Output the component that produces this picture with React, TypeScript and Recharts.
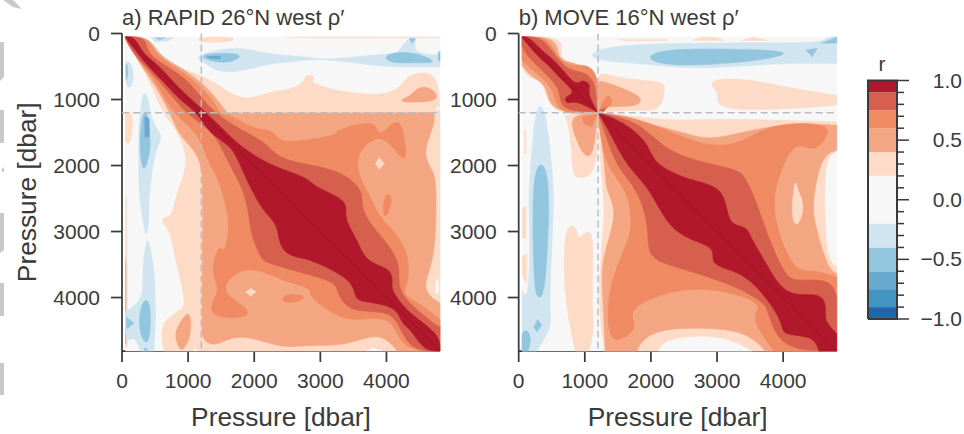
import { ScatterChart, Scatter, XAxis, YAxis } from 'recharts'

type Poly = number[][]

const FONT = '"Liberation Sans", Arial, sans-serif'
const INK = '#3a3a3a'
const MAX_P = 4810
const PRESSURE_TICKS = [0, 1000, 2000, 3000, 4000]
const DIAGONAL: Poly = [[50, 50], [4800, 4800]]
const INTERFACE_X: Poly = [[1200, 0], [1200, MAX_P]]
const INTERFACE_Y: Poly = [[0, 1200], [MAX_P, 1200]]

// contour level colours, RdBu_r
const C_N90 = '#2166ac'
const C_N75 = '#4393c3'
const C_N60 = '#67a9cf'
const C_N40 = '#92c5de'
const C_N20 = '#d1e5f0'
const C_0 = '#f7f7f7'
const C_P20 = '#fddbc7'
const C_P40 = '#f4a582'
const C_P60 = '#ef8a62'
const C_P75 = '#d6604d'
const C_P90 = '#b2182b'

const FULL: Poly = [[50, 50], [MAX_P, 50], [MAX_P, MAX_P], [50, MAX_P]]

// a) RAPID contours, [pressure x, pressure y]
const A_P20: Poly = [[50, 50], [330, 60], [680, 430], [985, 555], [1390, 730], [1790, 985], [2145, 910], [2400, 860], [2550, 835], [2750, 730], [2780, 630], [2930, 665], [2880, 740], [3260, 860], [3915, 925], [4220, 785], [4370, 630], [4745, 630], [4790, 1100], [4810, 1190], [4810, 4810], [630, 4810], [610, 4395], [885, 4190], [935, 3990], [785, 3335], [730, 3030], [605, 2850], [655, 2780], [755, 2725], [835, 2375], [985, 1920], [785, 1415], [630, 1210], [380, 655], [175, 255], [50, 80]]
const A_P20_STRIP1: Poly = [[50, 1210], [150, 1210], [150, 1515], [100, 1670], [50, 1620]]
const A_P20_STRIP2: Poly = [[50, 2450], [70, 2500], [75, 4750], [50, 4750]]
const A_P20_TOP1: Poly = [[2450, 52], [4810, 52], [4810, 62], [2900, 65]]
const A_P20_TOP2: Poly = [[1190, 55], [1650, 55], [1640, 120], [1400, 130], [1200, 125]]
const A_P20_DIAMOND1: Poly = [[3890, 1880], [3965, 1970], [3890, 2060], [3830, 1970]]
const A_P20_DIAMOND2: Poly = [[1945, 3860], [2030, 3915], [1945, 3980], [1870, 3915]]
const A_P40: Poly = [[50, 50], [400, 75], [580, 330], [910, 530], [1240, 785], [1440, 1010], [1590, 1185], [1700, 1205], [4650, 1205], [4700, 1215], [4720, 1390], [4570, 1820], [4720, 2120], [4745, 2525], [4720, 3385], [4570, 3840], [4810, 4090], [4810, 4810], [4165, 4810], [3865, 4570], [3370, 4720], [2755, 4720], [2400, 4750], [1795, 4570], [1440, 4720], [1240, 4620], [1210, 4395], [1225, 2375], [1190, 2020], [1085, 1770], [860, 1515], [730, 1210], [480, 760], [300, 505], [125, 200], [50, 60]]
const A_P40_BLOB1: Poly = [[4240, 995], [4370, 935], [4470, 835], [4620, 820], [4745, 910], [4720, 1010], [4470, 1035], [4270, 1035]]
const A_P40_BLOB2: Poly = [[960, 4270], [1025, 4285], [1035, 4550], [935, 4770], [860, 4750], [810, 4570], [860, 4420]]
const A_P40_STRIP: Poly = [[50, 3400], [62, 3500], [62, 4700], [50, 4700]]
const A_P60: Poly = [[50, 50], [380, 75], [505, 305], [835, 530], [1135, 760], [1390, 1035], [1490, 1215], [1640, 1235], [1995, 1440], [2250, 1465], [2400, 1615], [2700, 1625], [3205, 1540], [3230, 1490], [3510, 1390], [3820, 1365], [3900, 1540], [4115, 1340], [4240, 1440], [4290, 1870], [4165, 1820], [3890, 1540], [3535, 1920], [3710, 2370], [3760, 2475], [3915, 2800], [4140, 3030], [4320, 3385], [4320, 3740], [4270, 3940], [4420, 4040], [4770, 4290], [4810, 4340], [4810, 4810], [4265, 4800], [4065, 4340], [3585, 4340], [3255, 4270], [2850, 3990], [2830, 3860], [2400, 3740], [1895, 3550], [1515, 3865], [1795, 4090], [1900, 4270], [1490, 4295], [1340, 4140], [1465, 3890], [1370, 3640], [1415, 3380], [1490, 3230], [1550, 3280], [1615, 2880], [1545, 2525], [1440, 2180], [1290, 1920], [1135, 1515], [785, 1210], [530, 760], [330, 505], [150, 255], [50, 90]]
const A_P60_BLOB1: Poly = [[2425, 4015], [2550, 3950], [2750, 3980], [2675, 4050], [2500, 4075]]
const A_P60_BLOB2: Poly = [[4020, 2425], [4080, 2525], [4020, 2725], [3960, 2750], [3955, 2575]]
const A_P75: Poly = [[50, 50], [340, 75], [405, 305], [730, 530], [1035, 760], [1315, 1110], [1690, 1390], [2095, 1615], [2250, 1750], [2500, 1920], [3005, 2020], [3360, 2150], [3610, 2375], [3635, 2625], [3760, 2880], [3965, 3130], [4190, 3485], [4190, 3840], [4420, 4140], [4795, 4420], [4810, 4440], [4810, 4810], [4370, 4800], [4165, 4370], [3915, 4220], [3510, 4195], [3290, 3990], [3210, 3790], [2855, 3665], [2250, 3485], [2095, 3360], [1945, 2980], [1870, 2475], [1640, 2020], [1465, 1665], [1290, 1440], [985, 1210], [680, 860], [430, 580], [225, 355], [100, 175]]
const A_P90: Poly = [[50, 50], [200, 60], [330, 305], [555, 485], [810, 770], [1010, 960], [1260, 1190], [1515, 1435], [1820, 1720], [2270, 1995], [2750, 2170], [2930, 2320], [3260, 2475], [3390, 2625], [3390, 2830], [3560, 3130], [3710, 3435], [4015, 3560], [4090, 3740], [4090, 3890], [4270, 4140], [4470, 4320], [4795, 4570], [4810, 4810], [4570, 4800], [4370, 4495], [4240, 4395], [4140, 4190], [3865, 4090], [3570, 4040], [3510, 3890], [3360, 3685], [2900, 3460], [2750, 3410], [2500, 3335], [2375, 3130], [2325, 2880], [2095, 2625], [1820, 2070], [1640, 1720], [1340, 1515], [1135, 1210], [885, 1010], [655, 760], [405, 505], [200, 255], [65, 75]]
const A_WHITE1: Poly = [[3700, 4810], [3800, 4770], [3930, 4810]]
const A_WHITE2: Poly = [[1090, 4810], [1110, 4770], [1140, 4810]]
const A_WHITE3: Poly = [[4760, 3700], [4790, 3800], [4790, 3900], [4760, 3950], [4740, 3850]]
const A_WHITE4: Poly = [[4765, 1110], [4800, 1120], [4780, 1170], [4750, 1150]]
const A_N20_1: Poly = [[50, 430], [120, 440], [175, 620], [130, 810], [70, 780], [50, 620]]
const A_N20_2: Poly = [[330, 905], [400, 1000], [450, 1320], [600, 1565], [500, 1800], [420, 2400], [410, 2650], [400, 2900], [370, 3030], [350, 3000], [290, 2650], [260, 2400], [255, 2000], [250, 1515], [290, 1100]]
const A_N20_3: Poly = [[365, 3180], [410, 3180], [470, 3500], [495, 3740], [505, 4390], [480, 4810], [280, 4810], [180, 4600], [55, 4650], [55, 4220], [80, 4200], [300, 3990], [305, 3640]]
const A_N20_4: Poly = [[430, 60], [790, 60], [700, 110], [500, 130]]
const A_N20_5: Poly = [[1140, 355], [1440, 255], [1790, 225], [2150, 290], [2400, 325], [2700, 345], [3000, 380], [3200, 380], [3600, 345], [4010, 305], [4180, 270], [4320, 75], [4470, 75], [4415, 250], [4720, 330], [4810, 250], [4810, 505], [4270, 505], [3760, 480], [3000, 385], [2500, 445], [2250, 455], [1590, 600], [1290, 455]]
const A_N40_1: Poly = [[55, 470], [80, 480], [90, 620], [60, 720]]
const A_N40_2: Poly = [[355, 1190], [395, 1300], [405, 1515], [430, 1720], [330, 2120], [270, 1720], [300, 1310]]
const A_N40_3: Poly = [[355, 4040], [430, 4190], [405, 4700], [280, 4545], [270, 4240]]
const A_N40_4: Poly = [[330, 4770], [380, 4770], [370, 4810], [340, 4810]]
const A_N40_5: Poly = [[65, 4290], [180, 4390], [80, 4470], [65, 4440]]
const A_N40_6: Poly = [[500, 65], [650, 70], [560, 100]]
const A_N40_7: Poly = [[1240, 330], [1500, 300], [1800, 330], [1600, 440], [1300, 400]]
const A_N40_8: Poly = [[3995, 350], [4170, 290], [4470, 310], [4720, 430], [4480, 440], [4100, 440]]
const A_N40_9: Poly = [[4780, 300], [4810, 270], [4810, 420], [4780, 400]]
const A_N40_10: Poly = [[4340, 80], [4440, 80], [4380, 150]]
const A_N60_1: Poly = [[340, 1260], [410, 1290], [415, 1560], [345, 1570]]
const A_N60_2: Poly = [[1280, 350], [1500, 345], [1480, 385], [1320, 375]]

// b) MOVE contours
const B_P20: Poly = [[1200, 1200], [1590, 1235], [2390, 1315], [3100, 1290], [4810, 1340], [4810, 1790], [4640, 1970], [4640, 2880], [4690, 3380], [4810, 3535], [4810, 4810], [1290, 4810], [1210, 3890], [1290, 2880], [1270, 2375], [1230, 1800]]
const B_UL20: Poly = [[50, 50], [575, 55], [650, 255], [700, 430], [1190, 580], [1190, 1190], [530, 1190], [375, 760], [170, 680], [50, 510]]
const B_R20: Poly = [[1190, 595], [1485, 680], [2090, 730], [2190, 835], [2115, 1135], [1790, 1160], [1215, 1190]]
const B_R20B: Poly = [[2950, 705], [3505, 705], [4160, 835], [4810, 935], [4810, 1085], [4160, 1135], [3050, 1160], [3025, 935], [2960, 835]]
const B_TOP1: Poly = [[1485, 90], [2240, 90], [2240, 105], [1600, 115]]
const B_TOP2: Poly = [[2620, 110], [2750, 55], [3000, 60], [3100, 110]]
const B_TOP3: Poly = [[3350, 110], [3550, 55], [3780, 110]]
const B_LL20: Poly = [[730, 1240], [1190, 1210], [1170, 2020], [960, 2170], [830, 2120], [800, 1770], [750, 1340]]
const B_LS20: Poly = [[700, 2980], [860, 2930], [900, 3105], [1000, 3030], [1130, 3055], [1105, 3890], [1130, 4495], [1055, 4810], [855, 4810], [700, 3940]]
const B_STRIP1: Poly = [[50, 2650], [110, 2620], [110, 3100], [50, 3100]]
const B_STRIP2: Poly = [[50, 3380], [120, 3330], [120, 3790], [50, 3650]]
const B_STRIP3: Poly = [[85, 1465], [110, 1465], [110, 1820], [85, 1820]]
const B_P40: Poly = [[1200, 1200], [2295, 1440], [2850, 1590], [3400, 1490], [4110, 1375], [4810, 1390], [4810, 1770], [4590, 1920], [4465, 2525], [4490, 2880], [4665, 3485], [4810, 3640], [4810, 4810], [3730, 4810], [3400, 4545], [2800, 4470], [2190, 4495], [1890, 4650], [1790, 4810], [1310, 4810], [1270, 3890], [1280, 3385], [1460, 2750], [1330, 2375], [1300, 2000]]
const B_UL40: Poly = [[50, 50], [500, 60], [600, 300], [700, 430], [1180, 590], [1190, 1190], [525, 1160], [425, 810], [195, 655], [50, 480]]
const B_R40: Poly = [[1255, 730], [1635, 860], [1840, 985], [1740, 1100], [1335, 1110], [1215, 1190], [1210, 800]]
const B_LL40: Poly = [[830, 1260], [1190, 1215], [1130, 1745], [1005, 1845], [855, 1540]]
const B_HOLE1: Poly = [[4185, 2250], [4230, 2400], [4310, 2625], [4210, 2905], [4135, 2725], [4160, 2400]]
const B_P60: Poly = [[1200, 1200], [1890, 1315], [2800, 1690], [3400, 1615], [3860, 1390], [4615, 1375], [4640, 1565], [4440, 1770], [4160, 1665], [3910, 2270], [3880, 2525], [3900, 2880], [4160, 3535], [4465, 3585], [4810, 3690], [4810, 4810], [3860, 4810], [3555, 4345], [3630, 4165], [3400, 3990], [2545, 3860], [1670, 4165], [1780, 4420], [1585, 4600], [1375, 4600], [1375, 3840], [1660, 3130], [1690, 2780], [1610, 2375], [1360, 2020], [1250, 1600]]
const B_UL60: Poly = [[50, 50], [400, 60], [550, 280], [750, 480], [955, 480], [1180, 630], [1190, 1190], [650, 1190], [525, 860], [300, 630], [95, 455], [50, 380]]
const B_R60: Poly = [[1215, 1190], [1270, 1040], [1360, 935], [1410, 1060], [1330, 1110]]
const B_LL60: Poly = [[955, 1265], [1190, 1215], [1105, 1415], [980, 1365]]
const B_HOLE2: Poly = [[2240, 4200], [2700, 4115], [2900, 4190], [2850, 4290], [2495, 4290]]
const B_P75: Poly = [[1200, 1200], [1740, 1340], [2090, 1615], [2495, 1870], [3200, 2045], [3400, 2170], [3580, 2525], [3760, 3030], [4010, 3585], [4210, 3740], [4665, 3740], [4810, 3990], [4810, 4810], [4010, 4800], [3780, 4240], [3630, 4040], [3150, 3790], [2545, 3585], [2090, 3435], [1965, 3210], [1940, 2880], [1780, 2375], [1500, 2020], [1310, 1515]]
const B_UL75: Poly = [[50, 50], [325, 60], [500, 255], [700, 505], [905, 580], [1130, 705], [1190, 1190], [675, 1135], [625, 860], [375, 580], [145, 355], [50, 190]]
const B_R75: Poly = [[1210, 1170], [1340, 1110], [1280, 1190]]
const B_P90: Poly = [[1200, 1200], [1590, 1365], [1940, 1665], [2090, 1970], [2595, 2220], [3075, 2375], [3175, 2850], [3430, 2930], [3530, 3130], [3755, 3485], [4060, 3940], [4515, 3940], [4640, 4140], [4640, 4345], [4810, 4545], [4810, 4810], [4540, 4810], [4415, 4600], [4010, 4545], [3960, 4320], [3505, 3735], [3100, 3560], [2925, 3435], [2900, 3210], [2345, 3005], [1990, 2375], [1660, 2020], [1385, 1515]]
const B_UL90: Poly = [[50, 50], [170, 60], [350, 255], [475, 355], [650, 530], [855, 760], [955, 705], [1080, 785], [1055, 910], [1190, 1190], [880, 1035], [750, 1060], [700, 960], [830, 885], [625, 680], [450, 480], [300, 355], [70, 100]]
const B_WHITE: Poly = [[2115, 4810], [2240, 4670], [2600, 4600], [3100, 4620], [3530, 4810]]
const B_N20_1: Poly = [[295, 1140], [400, 1185], [500, 2020], [525, 2525], [510, 3000], [465, 4140], [475, 4445], [275, 4810], [50, 4810], [50, 3890], [150, 3990], [170, 2880], [150, 2525], [220, 1515]]
const B_N20_2: Poly = [[1160, 255], [1890, 150], [3910, 140], [4545, 125], [4650, 60], [4810, 50], [4810, 455], [3910, 455], [2700, 530], [1890, 455], [1180, 405]]
const B_N40_1: Poly = [[300, 2020], [400, 2070], [465, 2525], [400, 3890], [300, 3975], [230, 3790], [210, 2375]]
const B_N40_2: Poly = [[285, 4330], [350, 4420], [275, 4520], [225, 4445]]
const B_N40_3: Poly = [[50, 4545], [120, 4495], [180, 4620], [145, 4810], [50, 4810]]
const B_N40_4: Poly = [[2015, 330], [2395, 225], [3910, 250], [3985, 330], [3400, 430], [2545, 480], [2090, 430]]
const B_N40_5: Poly = [[4340, 250], [4515, 225], [4440, 355]]
const B_N40_6: Poly = [[4565, 150], [4810, 55], [4810, 150]]

// painted bottom to top, like contourf levels
const PANEL_A: [string, Poly][] = [
  [C_0, FULL],
  [C_P20, A_P20], [C_P20, A_P20_STRIP1], [C_P20, A_P20_STRIP2], [C_P20, A_P20_TOP1], [C_P20, A_P20_TOP2],
  [C_0, A_WHITE1], [C_0, A_WHITE2], [C_0, A_WHITE3], [C_0, A_WHITE4],
  [C_P40, A_P40], [C_P40, A_P40_BLOB1], [C_P40, A_P40_BLOB2], [C_P40, A_P40_STRIP],
  [C_P20, A_P20_DIAMOND1], [C_P20, A_P20_DIAMOND2],
  [C_P60, A_P60], [C_P60, A_P60_BLOB1], [C_P60, A_P60_BLOB2],
  [C_P75, A_P75], [C_P90, A_P90],
  [C_N20, A_N20_1], [C_N20, A_N20_2], [C_N20, A_N20_3], [C_N20, A_N20_4], [C_N20, A_N20_5],
  [C_N40, A_N40_1], [C_N40, A_N40_2], [C_N40, A_N40_3], [C_N40, A_N40_4], [C_N40, A_N40_5],
  [C_N40, A_N40_6], [C_N40, A_N40_7], [C_N40, A_N40_8], [C_N40, A_N40_9], [C_N40, A_N40_10],
  [C_N60, A_N60_1], [C_N60, A_N60_2],
]
const PANEL_B: [string, Poly][] = [
  [C_0, FULL],
  [C_P20, B_P20], [C_P20, B_UL20], [C_P20, B_R20], [C_P20, B_R20B], [C_P20, B_TOP1], [C_P20, B_TOP2], [C_P20, B_TOP3],
  [C_P20, B_LL20], [C_P20, B_LS20], [C_P20, B_STRIP1], [C_P20, B_STRIP2], [C_P20, B_STRIP3],
  [C_0, B_WHITE],
  [C_P40, B_P40], [C_P40, B_UL40], [C_P40, B_R40], [C_P40, B_LL40],
  [C_P20, B_HOLE1],
  [C_P60, B_P60], [C_P60, B_UL60], [C_P60, B_R60], [C_P60, B_LL60],
  [C_P40, B_HOLE2],
  [C_P75, B_P75], [C_P75, B_UL75], [C_P75, B_R75],
  [C_P90, B_P90], [C_P90, B_UL90],
  [C_N20, B_N20_1], [C_N20, B_N20_2],
  [C_N40, B_N40_1], [C_N40, B_N40_2], [C_N40, B_N40_3], [C_N40, B_N40_4], [C_N40, B_N40_5], [C_N40, B_N40_6],
]

// colour bar
const CBAR_BANDS: [number, number, string][] = [
  [-1, -0.9, C_N90], [-0.9, -0.75, C_N75], [-0.75, -0.6, C_N60], [-0.6, -0.4, C_N40], [-0.4, -0.2, C_N20],
  [-0.2, 0.2, C_0], [0.2, 0.4, C_P20], [0.4, 0.6, C_P40], [0.6, 0.75, C_P60], [0.75, 0.9, C_P75], [0.9, 1, C_P90],
]
const CBAR_FRAME: Poly = [[0, -1], [1, -1], [1, 1], [0, 1], [0, -1]]
const CBAR_TICKS = [-1, -0.9, -0.8, -0.7, -0.6, -0.5, -0.4, -0.3, -0.2, -0.1, 0, 0.1, 0.2, 0.3, 0.4, 0.5, 0.6, 0.7, 0.8, 0.9, 1]
const CBAR_LABELS: Record<string, string> = { '-1': '\u22121.0', '-0.5': '\u22120.5', '0': '0.0', '0.5': '0.5', '1': '1.0' }

// grey marks along the left edge of the source page
const EDGE_MARKS = [
  '3,0 13,0 22,9 13,7',
  '0,42 4,42 4,77 0,81',
  '0,110 4,110 4,143 0,143',
  '1,170 4,167 4,173',
  '0,213 4,213 4,250 0,253',
  '0,283 4,283 4,316 0,316',
  '0,363 4,363 4,395 0,395',
]

const toPoints = (poly: Poly) => poly.map(([x, y]) => ({ x, y }))
const noDot = () => null

// corners on the frame and at the 1200 dbar pinch stay sharp under the closed spline
const isCorner = ([x, y]: number[]) =>
  x <= 50 || y <= 50 || x >= MAX_P || y >= MAX_P || (Math.abs(x - 1200) < 25 && Math.abs(y - 1200) < 25)

// a closed basis spline cuts inside its control points, so push them out a little
const MAX_PUSH = 90
const inFrame = (v: number) => Math.max(50, Math.min(MAX_P, v))
const splinePoints = (poly: Poly) => {
  const n = poly.length
  return toPoints(poly.flatMap((p, i) => {
    if (isCorner(p)) return [p, p, p]
    const a = poly[(i - 1 + n) % n]
    const b = poly[(i + 1) % n]
    const dx = (p[0] - (a[0] + b[0]) / 2) / 3
    const dy = (p[1] - (a[1] + b[1]) / 2) / 3
    const k = Math.min(1, MAX_PUSH / (Math.hypot(dx, dy) || 1))
    return [[inFrame(p[0] + dx * k), inFrame(p[1] + dy * k)]]
  }))
}

function Panel({ title, layers, left, width, axisWidth, yLabel }: { title: string; layers: [string, Poly][]; left: number; width: number; axisWidth: number; yLabel?: boolean }) {
  return (
    <div style={{ position: 'absolute', left, top: 0 }}>
      <ScatterChart width={width} height={434} margin={{ top: 33.5, right: width - axisWidth - 318, bottom: 0, left: 0 }} style={{ fontFamily: FONT }}>
        <XAxis
          type="number"
          dataKey="x"
          domain={[0, MAX_P]}
          ticks={PRESSURE_TICKS}
          height={83}
          tickSize={11}
          tickMargin={11}
          interval={0}
          stroke={INK}
          strokeWidth={1.75}
          tick={{ fontSize: 21, fill: INK }}
          label={{ value: 'Pressure [dbar]', position: 'insideBottom', offset: 8, style: { fontSize: 26.3, fill: INK } }}
        />
        <YAxis
          type="number"
          dataKey="y"
          reversed
          domain={[0, MAX_P]}
          ticks={PRESSURE_TICKS}
          width={axisWidth}
          tickSize={11}
          tickMargin={11}
          interval={0}
          stroke={INK}
          strokeWidth={1.75}
          tick={{ fontSize: 21, fill: INK }}
          label={yLabel ? { value: 'Pressure [dbar]', angle: -90, position: 'insideLeft', offset: 27, style: { fontSize: 26.3, fill: INK, textAnchor: 'middle' } } : undefined}
        />
        {layers.map(([color, poly], i) => (
          <Scatter
            key={i}
            data={poly.length >= 5 ? splinePoints(poly) : toPoints(poly)}
            isAnimationActive={false}
            shape={noDot}
            legendType="none"
            lineJointType={poly.length >= 5 ? 'basisClosed' : 'linear'}
            line={{ fill: color, stroke: color, strokeWidth: 0.5 }}
          />
        ))}
        <Scatter data={toPoints(DIAGONAL)} isAnimationActive={false} shape={noDot} legendType="none" line={{ stroke: '#8c1322', strokeWidth: 0.6 }} />
        <Scatter data={toPoints(INTERFACE_X)} isAnimationActive={false} shape={noDot} legendType="none" line={{ stroke: '#b9bdc1', strokeWidth: 1.5, strokeDasharray: '7 4' }} />
        <Scatter data={toPoints(INTERFACE_Y)} isAnimationActive={false} shape={noDot} legendType="none" line={{ stroke: '#b9bdc1', strokeWidth: 1.5, strokeDasharray: '7 4' }} />
        <text x={axisWidth} y={25} fontSize={22} fill={INK} fontFamily={FONT}>{title}</text>
      </ScatterChart>
    </div>
  )
}

function CbarTick({ x, y, payload }: any) {
  const label = CBAR_LABELS[String(payload.value)]
  return (
    <g>
      <line x1={x} x2={x + (label ? 12 : 7)} y1={y} y2={y} stroke={INK} strokeWidth={1.5} />
      {label && <text x={x + 65} y={y + 7} textAnchor="end" fontSize={21} fill={INK}>{label}</text>}
    </g>
  )
}

function ColorBar() {
  return (
    <div style={{ position: 'absolute', left: 840, top: 0 }}>
      <ScatterChart width={124} height={434} margin={{ top: 80.5, right: 0, bottom: 115, left: 28 }} style={{ fontFamily: FONT }}>
        <XAxis type="number" dataKey="x" domain={[0, 1]} hide />
        <YAxis
          type="number"
          dataKey="y"
          orientation="right"
          domain={[-1, 1]}
          ticks={CBAR_TICKS}
          interval={0}
          width={67}
          tickSize={0}
          tickMargin={0}
          axisLine={false}
          tickLine={false}
          tick={<CbarTick />}
        />
        {CBAR_BANDS.map(([y1, y2, color]) => (
          <Scatter
            key={y1}
            data={toPoints([[0, y1], [1, y1], [1, y2], [0, y2]])}
            isAnimationActive={false}
            shape={noDot}
            legendType="none"
            line={{ fill: color, stroke: 'none' }}
          />
        ))}
        <Scatter data={toPoints(CBAR_FRAME)} isAnimationActive={false} shape={noDot} legendType="none" line={{ stroke: INK, strokeWidth: 2 }} />
        <text x={42} y={71} textAnchor="middle" fontSize={21} fill={INK} fontFamily={FONT}>r</text>
      </ScatterChart>
    </div>
  )
}

export default function App() {
  return (
    <div style={{ position: 'absolute', left: 0, top: 0, width: 964, height: 434, background: '#fff', overflow: 'hidden' }}>
      <svg width={30} height={434} style={{ position: 'absolute', left: 0, top: 0 }}>
        {EDGE_MARKS.map((p) => <polygon key={p} points={p} fill="#c9c9c7" />)}
      </svg>
      <Panel title="a) RAPID 26°N west ρ′" layers={PANEL_A} left={0} width={480} axisWidth={122} yLabel />
      <Panel title="b) MOVE 16°N west ρ′" layers={PANEL_B} left={440} width={430} axisWidth={78.7} />
      <ColorBar />
    </div>
  )
}
